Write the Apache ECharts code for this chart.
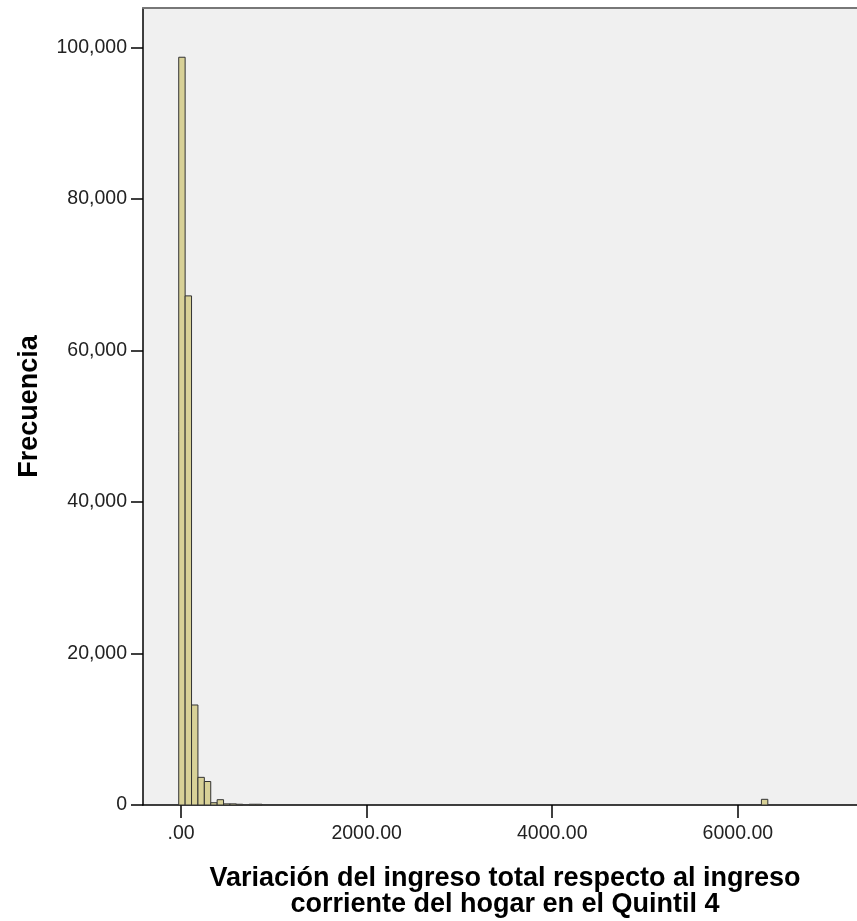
<!DOCTYPE html>
<html>
<head>
<meta charset="utf-8">
<script src="https://cdn.jsdelivr.net/npm/echarts@6/dist/echarts.min.js"></script>
<style>
html,body{margin:0;padding:0;background:#fff;}
#chart{width:857px;height:921px;}
</style>
</head>
<body>
<div id="chart"></div>
<script>
// Histogram bins (lower edge of each bin) and frequencies
const binWidth = 69;
const binLower = [-25, 44, 113, 182, 251, 320, 389, 458, 527, 596, 734, 803, 6254];
const counts   = [98700, 67200, 13200, 3650, 3100, 300, 700, 150, 150, 100, 100, 100, 750];
const xTicks = [0, 2000, 4000, 6000];
const yTicks = [0, 20000, 40000, 60000, 80000, 100000];
const xTitle = 'Variación del ingreso total respecto al ingreso\ncorriente del hogar en el Quintil 4';
const yTitle = 'Frecuencia';

const data = binLower.map((b, i) => [b, b + binWidth, counts[i]]);

const chart = echarts.init(document.getElementById('chart'));
chart.setOption({
  animation: false,
  backgroundColor: '#ffffff',
  grid: {
    left: 143, top: 8, right: 0, bottom: 116,
    show: true, backgroundColor: '#f0f0f0', borderWidth: 0,
    outerBoundsMode: 'none'
  },
  xAxis: [{
    type: 'value',
    min: -410, max: 7284,
    position: 'bottom',
    axisLine: { show: true, onZero: false, lineStyle: { color: '#000', width: 1.5 } },
    axisTick: { show: true, customValues: xTicks, length: 13, lineStyle: { color: '#000', width: 1.5 } },
    axisLabel: {
      customValues: xTicks, margin: 19, color: '#222',
      fontFamily: 'Liberation Sans, Arial, sans-serif', fontSize: 19.5,
      formatter: v => v === 0 ? '.00' : v.toFixed(2)
    },
    splitLine: { show: false }
  }, {
    type: 'value',
    min: -410, max: 7284,
    position: 'top',
    axisLine: { show: true, onZero: false, lineStyle: { color: '#777', width: 2 } },
    axisTick: { show: false }, axisLabel: { show: false }, splitLine: { show: false }
  }],
  yAxis: {
    type: 'value',
    min: 0, max: 105200, interval: 20000,
    axisLine: { show: true, onZero: false, lineStyle: { color: '#000', width: 1.5 } },
    axisTick: { show: true, length: 12, customValues: yTicks, lineStyle: { color: '#000', width: 1.5 } },
    axisLabel: {
      margin: 16, color: '#222',
      fontFamily: 'Liberation Sans, Arial, sans-serif', fontSize: 19.5,
      formatter: v => v.toLocaleString('en-US'),
      customValues: yTicks
    },
    splitLine: { show: false },
    name: yTitle, nameLocation: 'middle', nameGap: 100, nameRotate: 90,
    nameTextStyle: { fontFamily: 'Liberation Sans, Arial, sans-serif', fontSize: 27, fontWeight: 'bold', color: '#000' }
  },
  graphic: [{
    type: 'text', x: 505, y: 866,
    style: {
      text: xTitle,
      font: 'bold 27px "Liberation Sans", Arial, sans-serif',
      fill: '#000', align: 'center', lineHeight: 26
    }
  }],
  series: [{
    type: 'custom',
    xAxisIndex: 0,
    data: data,
    renderItem: function (params, api) {
      const p0 = api.coord([api.value(0), api.value(2)]);
      const p1 = api.coord([api.value(1), 0]);
      return {
        type: 'rect',
        shape: { x: p0[0], y: p0[1], width: p1[0] - p0[0], height: p1[1] - p0[1] },
        style: { fill: '#d8d197', stroke: '#333', lineWidth: 1 }
      };
    }
  }]
});
</script>
</body>
</html>
